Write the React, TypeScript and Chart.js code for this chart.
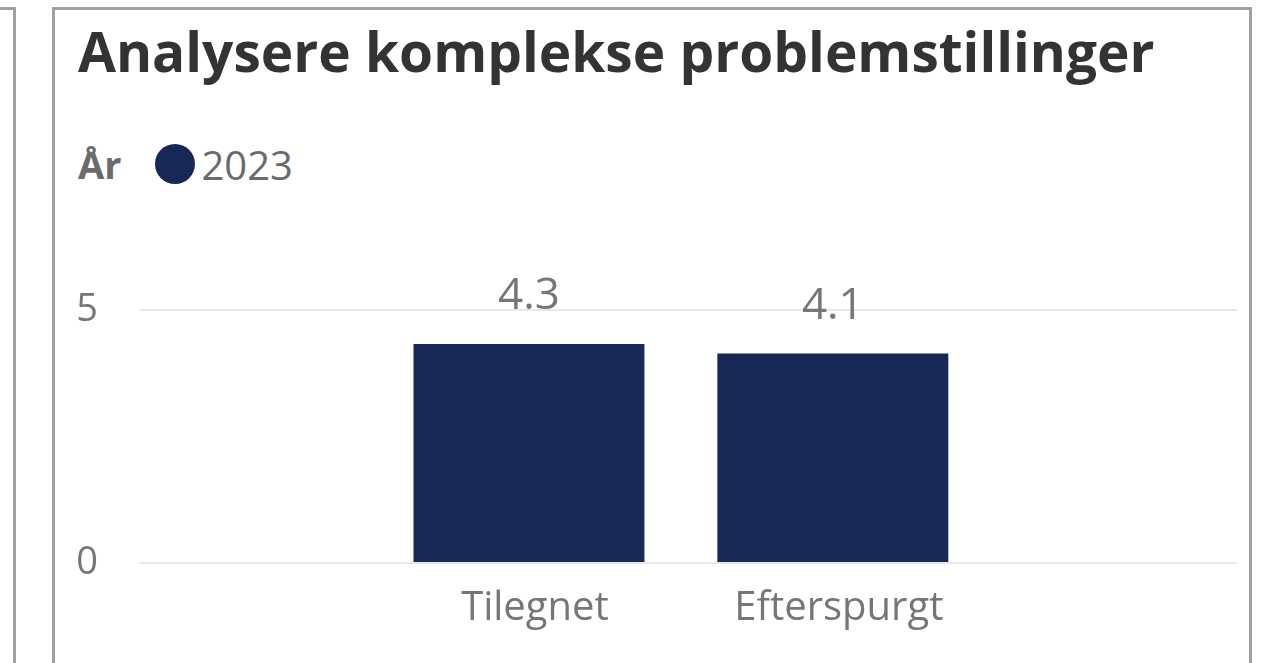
import React, { useEffect, useRef } from "react";
import { Chart, registerables } from "chart.js";

Chart.register(...registerables);

const titleText = "Analysere komplekse problemstillinger";
const legendTitle = "År";
const seriesNames = ["2023"];
const categories = ["Tilegnet", "Efterspurgt"];
const values2023 = [4.33, 4.14];
const yTickValues = [0, 5];

const BAR = "#172856";
const TEXT = "#767676";
const FONT = "'Open Sans', 'Noto Sans', sans-serif";

export default function App() {
  const ref = useRef<HTMLCanvasElement>(null);

  useEffect(() => {
    document.body.style.margin = "0";
    const valueLabels = {
      id: "valueLabels",
      afterDatasetsDraw(chart: any) {
        const ctx = chart.ctx;
        chart.data.datasets.forEach((ds: any, di: number) => {
          const meta = chart.getDatasetMeta(di);
          meta.data.forEach((bar: any, i: number) => {
            const v = ds.data[i].y as number;
            ctx.save();
            ctx.font = `44px ${FONT}`;
            ctx.fillStyle = TEXT;
            ctx.textAlign = "center";
            ctx.textBaseline = "alphabetic";
            ctx.fillText(v.toFixed(1), bar.x, bar.y - 35);
            ctx.restore();
          });
        });
      },
    };
    const chart = new Chart(ref.current as HTMLCanvasElement, {
      type: "bar",
      data: {
        datasets: [
          {
            label: seriesNames[0],
            data: categories.map((c, i) => ({ x: i, y: values2023[i] })),
            backgroundColor: BAR,
            categoryPercentage: 1,
            barPercentage: 0.76,
          },
        ],
      },
      options: {
        animation: false,
        responsive: false,
        maintainAspectRatio: false,
        layout: { padding: { top: 80, left: 0, right: 12, bottom: 0 } },
        plugins: { legend: { display: false }, tooltip: { enabled: false } },
        scales: {
          x: {
            type: "linear",
            offset: false,
            min: -1.28,
            max: 2.33,
            grid: { display: false, drawTicks: false },
            border: { display: false },
            afterBuildTicks: (s: any) => {
              s.ticks = categories.map((_, i) => ({ value: i }));
            },
            afterFit: (s: any) => {
              s.height = 100;
            },
            ticks: {
              callback: (v: any) => categories[v] ?? "",
              font: { family: FONT, size: 40 },
              color: TEXT,
              padding: 22,
              labelOffset: 6,
              maxRotation: 0,
              autoSkip: false,
            },
          },
          y: {
            min: 0,
            max: 5,
            afterBuildTicks: (s: any) => {
              s.ticks = yTickValues.map((v) => ({ value: v }));
            },
            afterFit: (s: any) => {
              s.width = 85;
            },
            grid: { color: "#e8e8e8", lineWidth: 2, drawTicks: false },
            border: { display: false },
            ticks: { font: { family: FONT, size: 38 }, color: TEXT, padding: 42 },
          },
        },
      },
      plugins: [valueLabels],
    } as any);
    return () => chart.destroy();
  }, []);

  return (
    <div style={{ position: "fixed", left: 0, top: 0, width: 1271, height: 663, background: "#fff", overflow: "hidden" }}>
      <div style={{ position: "absolute", left: -50, top: 7, width: 66, height: 720, border: "3px solid #a0a0a0", boxSizing: "border-box" }} />
      <div style={{ position: "absolute", left: 52, top: 7, width: 1200, height: 720, border: "3px solid #a0a0a0", boxSizing: "border-box" }} />
      <div style={{ position: "absolute", left: 78, top: 21, fontFamily: FONT, fontWeight: 700, fontSize: 55, lineHeight: "60px", color: "#333", whiteSpace: "nowrap" }}>
        {titleText}
      </div>
      <div style={{ position: "absolute", left: 78, top: 140, height: 48, display: "flex", alignItems: "center", fontFamily: FONT, color: "#6b6b6b", whiteSpace: "nowrap" }}>
        <span style={{ fontWeight: 700, fontSize: 38 }}>{legendTitle}</span>
        {seriesNames.map((n) => (
          <span key={n} style={{ display: "flex", alignItems: "center" }}>
            <span style={{ display: "inline-block", width: 40, height: 40, borderRadius: 20, background: BAR, marginLeft: 34, marginRight: 6 }} />
            <span style={{ fontSize: 40 }}>{n}</span>
          </span>
        ))}
      </div>
      <canvas ref={ref} width={1194} height={433} style={{ position: "absolute", left: 55, top: 230, width: 1194, height: 433 }} />
    </div>
  );
}
